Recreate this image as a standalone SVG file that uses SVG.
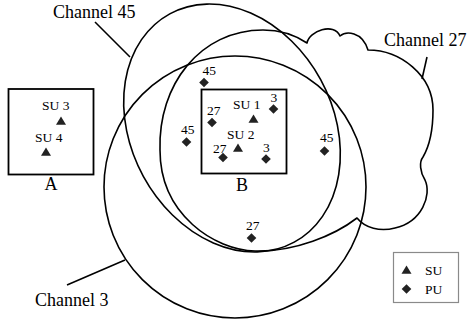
<svg xmlns="http://www.w3.org/2000/svg" xmlns:xlink="http://www.w3.org/1999/xlink" width="467" height="322" viewBox="0 0 467 322">
<style>
.ln{fill:none;stroke:#000;stroke-width:1.6;stroke-linejoin:round}
.box{fill:none;stroke:#000;stroke-width:1.8}
.leg{fill:#fff;stroke:#8a8a8a;stroke-width:1.2}
text{font-family:'Liberation Serif','DejaVu Serif',serif;fill:#000}
.big{font-size:18px}
.sm{font-size:13.5px}
.mk{fill:#222}
</style>
<defs>
<path id="tri" d="M0,-4.5 L5,3.8 L-5,3.8 Z"/>
<path id="dia" d="M0,-4.8 L4.8,0 L0,4.8 L-4.8,0 Z"/>
</defs>
<rect width="467" height="322" fill="#fff"/>
<g id="connectors">
<line class="ln" x1="95" y1="22" x2="130" y2="57"/>
<line class="ln" x1="427" y1="57" x2="422" y2="79"/>
<line class="ln" x1="67" y1="285" x2="125" y2="260"/>
</g>
<g font-family="Liberation Serif, DejaVu Serif, serif">
<g id="channel45">
<ellipse class="ln" cx="232" cy="128" rx="130" ry="101" transform="rotate(61.4 232 128)"/>
<text class="big" x="53" y="18" font-family="Liberation Serif, serif">Channel 45</text>
</g>
<g id="channel3">
<circle class="ln" cx="235" cy="187" r="131"/>
<text class="big" x="35" y="306" font-family="Liberation Serif, serif">Channel 3</text>
</g>
<g id="channel27">
<path class="ln" d="M307,43 C309,31 334,22 340,36 C346,31 362,31 368,50 C400,50 433,75 433,110 C433,128 430,145 423,157 C419,162 420,172 425,180 C432,195 422,222 395,228 C380,232 365,228 357,218 C335,235 295,252 255,251 C215,250 160,215 160,150 C158,85 200,30 263,30 C280,30 295,35 307,43 Z"/>
<text class="big" x="384" y="46" font-family="Liberation Serif, serif">Channel 27</text>
</g>
<g id="areaA">
<rect class="box" x="8.5" y="89" width="85" height="85.5"/>
<text class="sm" x="42" y="110">SU 3</text>
<use xlink:href="#tri" class="mk" x="61" y="121"/>
<text class="sm" x="35" y="142">SU 4</text>
<use xlink:href="#tri" class="mk" x="46" y="152"/>
<text class="big" x="51" y="190" text-anchor="middle">A</text>
</g>
<g id="areaB">
<rect class="box" x="201.5" y="89.5" width="85" height="84"/>
<text class="sm" x="233" y="109">SU 1</text>
<use xlink:href="#tri" class="mk" x="253.5" y="119"/>
<text class="sm" x="227" y="139">SU 2</text>
<use xlink:href="#tri" class="mk" x="238" y="148"/>
<text class="sm" x="270.5" y="102">3</text>
<use xlink:href="#dia" class="mk" x="273.5" y="109"/>
<text class="sm" x="207" y="115">27</text>
<use xlink:href="#dia" class="mk" x="212" y="122.5"/>
<text class="sm" x="213" y="153">27</text>
<use xlink:href="#dia" class="mk" x="223" y="157.5"/>
<text class="sm" x="263" y="152">3</text>
<use xlink:href="#dia" class="mk" x="266" y="159"/>
<text class="big" x="242" y="191" text-anchor="middle">B</text>
</g>
<g id="pu45top">
<text class="sm" x="202.5" y="75">45</text>
<use xlink:href="#dia" class="mk" x="204" y="82.5"/>
</g>
<g id="pu45left">
<text class="sm" x="181" y="134">45</text>
<use xlink:href="#dia" class="mk" x="186.5" y="142"/>
</g>
<g id="pu45right">
<text class="sm" x="320" y="142">45</text>
<use xlink:href="#dia" class="mk" x="324.5" y="151"/>
</g>
<g id="pu27bottom">
<text class="sm" x="246" y="230">27</text>
<use xlink:href="#dia" class="mk" x="251.5" y="238"/>
</g>
<g id="legend">
<rect class="leg" x="393.5" y="252.5" width="65" height="50"/>
<use xlink:href="#tri" class="mk" x="406.5" y="270"/>
<text class="sm" x="425" y="275">SU</text>
<use xlink:href="#dia" class="mk" x="406.5" y="289"/>
<text class="sm" x="425" y="294">PU</text>
</g>
</g>
</svg>
